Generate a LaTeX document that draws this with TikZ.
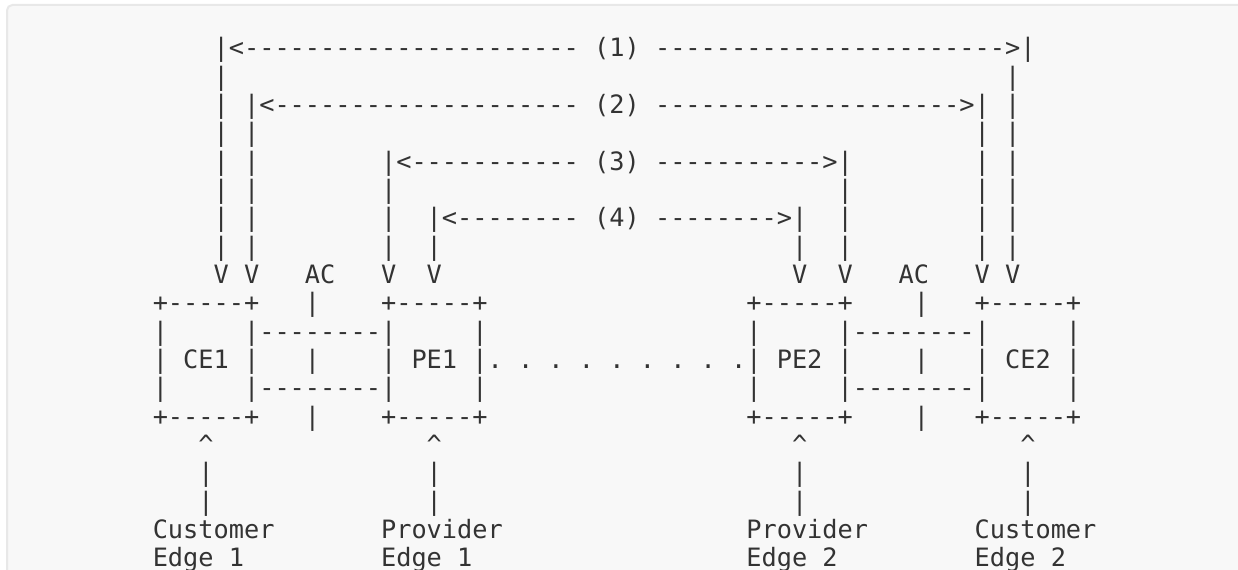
\documentclass[tikz,border=0pt]{standalone}
\usepackage{fontspec}
\setmonofont{DejaVu Sans Mono}
\definecolor{pagebg}{HTML}{F8F8F8}
\definecolor{pageline}{HTML}{E8E8E8}
\definecolor{inkgrey}{HTML}{333333}
\newcommand\asciisize{\ttfamily\fontsize{18.96pt}{21.25pt}\selectfont}
\tikzset{asc/.style={font=\asciisize, text=inkgrey, inner sep=0pt, anchor=base west}}

\begin{document}
\begin{tikzpicture}[x=0.75pt,y=-0.75pt]
\useasboundingbox (0,0) rectangle (1238,570);
\clip (0,0) rectangle (1238,570);
\fill[white] (0,0) rectangle (1238,570);
\draw[pageline, fill=pagebg, line width=1.5pt, rounded corners=4pt] (7,5) rectangle (1260,600);

\begin{scope}[shift={(114.375pt,-21.35pt)}, x=11.415pt, y=-21.25pt]
% scopes (1) to (4)
\node[asc] (l1) at (4,1) {|<----------------------};
\node[asc] (n1) at (29,1) {(1)};
\node[asc] (r1) at (33,1) {----------------------->|};
\node[asc] (l2) at (6,3) {|<--------------------};
\node[asc] (n2) at (29,3) {(2)};
\node[asc] (r2) at (33,3) {-------------------->|};
\node[asc] (l3) at (15,5) {|<-----------};
\node[asc] (n3) at (29,5) {(3)};
\node[asc] (r3) at (33,5) {----------->|};
\node[asc] (l4) at (18,7) {|<--------};
\node[asc] (n4) at (29,7) {(4)};
\node[asc] (r4) at (33,7) {-------->|};

\foreach \c/\a/\b in {4/2/8, 56/2/8, 6/4/8, 54/4/8, 15/6/8, 45/6/8, 18/8/8, 42/8/8}
\foreach \r in {\a,...,\b}
{\node[asc] (bar-\c-\r) at (\c,\r) {|};}

\foreach \c in {4,6,15,18,42,45,54,56}
{\node[asc] (v-\c) at (\c,9) {V};}
\node[asc] (acl) at (10,9) {AC};
\node[asc] (acr) at (49,9) {AC};

% the four boxes
\foreach \n/\l/\c in {ce1/CE1/0, pe1/PE1/15, pe2/PE2/39, ce2/CE2/54} {
\node[asc] (\n-top) at (\c,10) {+-----+};
\node[asc] (\n-bot) at (\c,14) {+-----+};
\foreach \r in {11,12,13} {
\node[asc] (\n-w\r) at (\c,\r) {|};
\node[asc] (\n-e\r) at ({\c+6},\r) {|};}
\node[asc] (\n) at ({\c+2},12) {\l};
}

% attachment circuits
\foreach \c in {7,46}
\foreach \r in {11,13}
{\node[asc] (ac-\c-\r) at (\c,\r) {--------};}
\foreach \c in {10,50}
\foreach \r in {10,12,14}
{\node[asc] (acbar-\c-\r) at (\c,\r) {|};}

\foreach \c in {22,24,...,38}
{\node[asc] (dot-\c) at (\c,12) {.};}

% pointers to the labels
\foreach \c in {3,18,42,57} {
\node[asc] (up-\c) at (\c,15) {\^{}};
\node[asc] (st-\c-16) at (\c,16) {|};
\node[asc] (st-\c-17) at (\c,17) {|};}

\node[asc] (cust1) at (0,18) {Customer};
\node[asc] (prov1) at (15,18) {Provider};
\node[asc] (prov2) at (39,18) {Provider};
\node[asc] (cust2) at (54,18) {Customer};
\node[asc] (edge1) at (0,19) {Edge 1};
\node[asc] (edge2) at (15,19) {Edge 1};
\node[asc] (edge3) at (39,19) {Edge 2};
\node[asc] (edge4) at (54,19) {Edge 2};
\end{scope}
\end{tikzpicture}
\end{document}
